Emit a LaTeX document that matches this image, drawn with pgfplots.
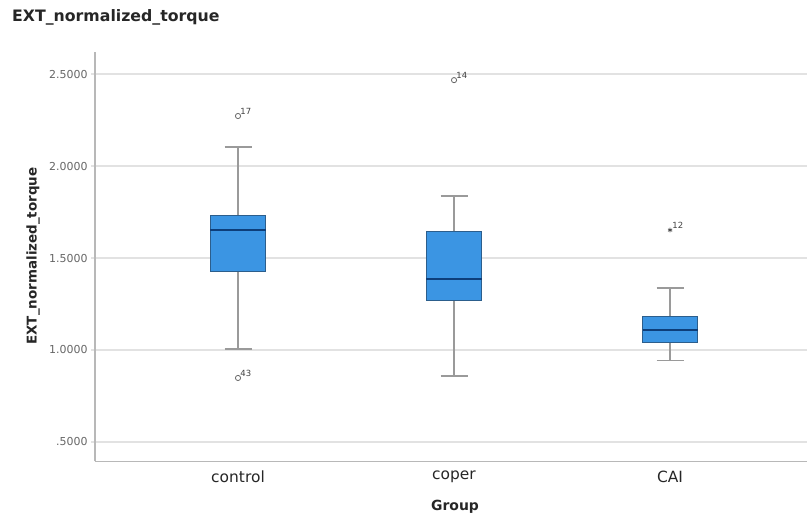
\documentclass[border=0pt]{standalone}
\usepackage{pgfplots}
\pgfplotsset{compat=1.18}
\usepgfplotslibrary{statistics}
\usepackage{fontspec}
\setmainfont{DejaVu Sans}
\definecolor{boxblue}{HTML}{3B95E3}
\definecolor{boxedge}{HTML}{2C5E8C}
\definecolor{mednavy}{HTML}{0D3E7A}
\definecolor{whisk}{HTML}{9A9A9A}
\definecolor{gridc}{HTML}{E2E2E2}
\definecolor{axc}{HTML}{B8B8B8}
\definecolor{tickc}{HTML}{666666}
\begin{document}
\begin{tikzpicture}[x=1bp,y=1bp]
\path[use as bounding box] (0,0) rectangle (807,516);
\begin{axis}[
  at={(95bp,54.5bp)}, anchor=south west,
  scale only axis, width=712bp, height=409.5bp,
  xmin=-0.662, xmax=2.634, ymin=0.394, ymax=2.620,
  boxplot/draw direction=y,
  axis x line*=bottom, axis y line*=left,
  axis line style={draw=axc, line width=1.2bp, -},
  xtick={0,1,2}, xticklabels={control,coper,CAI},
  xtick style={draw=none},
  xticklabel style={font=\fontsize{15.5}{16}\selectfont, text=black!85, yshift=-2bp},
  ytick={0.5,1,1.5,2,2.5},
  yticklabels={.5000,1.0000,1.5000,2.0000,2.5000},
  yticklabel style={font=\fontsize{11}{12}\selectfont, text=tickc},
  tick align=outside, major tick length=4bp,
  ytick style={draw=gridc, line width=1.5bp},
  ymajorgrids, grid style={draw=gridc, line width=1.5bp},
  clip=false,
]
\addplot[boxplot prepared={draw position=0, lower whisker=1.005, lower quartile=1.429, median=1.652, upper quartile=1.734, upper whisker=2.103, box extend=0.255, whisker extend=0.125,
  every box/.style={draw=boxedge, fill=boxblue, line width=0.8bp},
  every median/.style={draw=mednavy, line width=2.4bp},
  every whisker/.style={draw=whisk, line width=1.3bp}}, draw=whisk] coordinates {};
\addplot[boxplot prepared={draw position=1, lower whisker=0.859, lower quartile=1.272, median=1.386, upper quartile=1.643, upper whisker=1.837, box extend=0.255, whisker extend=0.125,
  every box/.style={draw=boxedge, fill=boxblue, line width=0.8bp},
  every median/.style={draw=mednavy, line width=2.4bp},
  every whisker/.style={draw=whisk, line width=1.3bp}}, draw=whisk] coordinates {};
\addplot[boxplot prepared={draw position=2, lower whisker=0.942, lower quartile=1.040, median=1.109, upper quartile=1.185, upper whisker=1.337, box extend=0.255, whisker extend=0.125,
  every box/.style={draw=boxedge, fill=boxblue, line width=0.8bp},
  every median/.style={draw=mednavy, line width=2.4bp},
  every whisker/.style={draw=whisk, line width=1.3bp}}, draw=whisk] coordinates {};
\addplot[only marks, mark=o, mark size=2.6bp, mark options={draw=black!60, line width=0.8bp},
  nodes near coords, point meta=explicit symbolic,
  nodes near coords style={anchor=south west, font=\fontsize{8.5}{9}\selectfont, text=black!75, inner sep=1bp, xshift=1bp, yshift=0bp}]
  coordinates {(0,2.272)[17] (0,0.848)[43] (1,2.467)[14]};
\addplot[only marks, mark=asterisk, mark size=2.4bp, mark options={draw=black!70, line width=0.8bp},
  nodes near coords, point meta=explicit symbolic,
  nodes near coords style={anchor=south west, font=\fontsize{8.5}{9}\selectfont, text=black!75, inner sep=1bp, xshift=1bp, yshift=0bp}]
  coordinates {(2,1.652)[12]};
\end{axis}
\node[anchor=base west, font=\bfseries\fontsize{15.8}{16}\selectfont, text=black!85, inner sep=0] at (12,494) {EXT\_normalized\_torque};
\node[rotate=90, anchor=center, font=\bfseries\fontsize{13.5}{14}\selectfont, text=black!85, inner sep=0] at (33,260) {EXT\_normalized\_torque};
\node[anchor=base, font=\bfseries\fontsize{14}{15}\selectfont, text=black!85, inner sep=0] at (455,5) {Group};
\end{tikzpicture}
\end{document}
